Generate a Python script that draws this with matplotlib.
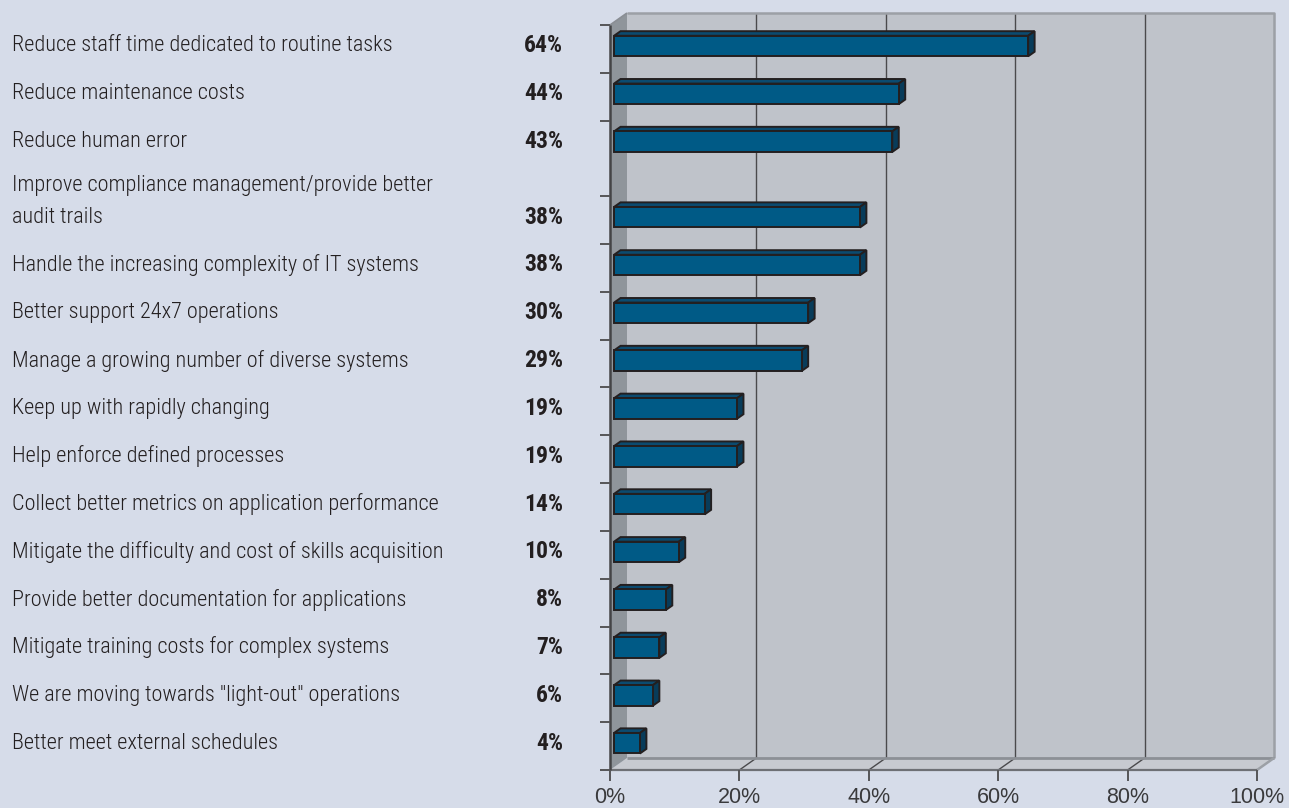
import matplotlib
matplotlib.use("Agg")
import matplotlib.pyplot as plt
from matplotlib.patches import Polygon
from matplotlib import transforms
import numpy as np

# ---- data ----
categories = [
    "Reduce staff time dedicated to routine tasks",
    "Reduce maintenance costs",
    "Reduce human error",
    "Improve compliance management/provide better\naudit trails",
    "Handle the increasing complexity of IT systems",
    "Better support 24x7 operations",
    "Manage a growing number of diverse systems",
    "Keep up with rapidly changing",
    "Help enforce defined processes",
    "Collect better metrics on application performance",
    "Mitigate the difficulty and cost of skills acquisition",
    "Provide better documentation for applications",
    "Mitigate training costs for complex systems",
    "We are moving towards \"light-out\" operations",
    "Better meet external schedules",
]
values = [64, 44, 43, 38, 38, 30, 29, 19, 19, 14, 10, 8, 7, 6, 4]
value_labels = ["64%", "44%", "43%", "38%", "38%", "30%", "29%", "19%",
                "19%", "14%", "10%", "8%", "7%", "6%", "4%"]
x_ticks = [0, 20, 40, 60, 80, 100]
x_tick_labels = ["0%", "20%", "40%", "60%", "80%", "100%"]

# ---- style ----
BG = "#D6DCE9"
BACK_WALL = "#BFC3CA"
SIDE_WALL = "#8F959B"
FLOOR = "#C7CAD0"
BAR_FRONT = "#005A86"
BAR_TOP = "#0B4B70"
BAR_SIDE = "#083C5A"
EDGE = "#231F20"
TEXT = "#231F20"
CAT_FONT = ["Liberation Sans Narrow", "Roboto Condensed", "DejaVu Sans"]
TICK_FONT = ["Liberation Sans", "DejaVu Sans"]

W, H = 1289, 808
fig = plt.figure(figsize=(W / 100, H / 100), dpi=100)
fig.patch.set_facecolor(BG)

# row positions: a two-line label gets extra room above its bar
extra = 0.58
pos = []
acc = 0.0
for i, c in enumerate(categories):
    if "\n" in c:
        acc += extra
    pos.append(i + acc)
pos = np.array(pos)

y_top = -0.5
y_bot = pos[-1] + 0.5

ax = fig.add_axes([610 / W, 1 - 770 / H, 647 / W, 745 / H])
ax.set_xlim(0, 100)
ax.set_ylim(y_bot, y_top)
ax.axis("off")

# 3D depth offsets in data units
px_x = 100 / 647.0
px_y = (y_bot - y_top) / 745.0
DX = 17 * px_x
DY = -12 * px_y


def poly(pts, **kw):
    p = Polygon(pts, closed=True, clip_on=False, **kw)
    ax.add_patch(p)
    return p


def line(xs, ys, **kw):
    ax.plot(xs, ys, clip_on=False, solid_capstyle="butt", **kw)


# walls and floor
poly([(DX, y_top + DY), (100 + DX, y_top + DY), (100 + DX, y_bot + DY), (DX, y_bot + DY)],
     facecolor=BACK_WALL, edgecolor="none", zorder=1)
poly([(0, y_bot), (100, y_bot), (100 + DX, y_bot + DY), (DX, y_bot + DY)],
     facecolor=FLOOR, edgecolor="none", zorder=1)
poly([(0, y_top), (DX, y_top + DY), (DX, y_bot + DY), (0, y_bot)],
     facecolor=SIDE_WALL, edgecolor="none", zorder=1.5)

# gridlines on back wall and floor
for v in x_ticks[1:-1]:
    line([v + DX, v + DX], [y_top + DY, y_bot + DY], color="#4A4A4C", lw=1.0, zorder=2)
    line([v, v + DX], [y_bot, y_bot + DY], color="#4A4A4C", lw=1.0, zorder=2)

# wall frame
line([DX, 100 + DX, 100 + DX], [y_top + DY, y_top + DY, y_bot + DY],
     color="#9CA0A6", lw=1.8, zorder=2)
line([DX, 100 + DX], [y_bot + DY, y_bot + DY], color="#8C9096", lw=2.0, zorder=2)
line([100, 100 + DX], [y_bot, y_bot + DY], color="#9CA0A6", lw=1.8, zorder=2)
line([0, DX], [y_top, y_top + DY], color="#8A8E94", lw=1.2, zorder=2)
line([0, 100], [y_bot, y_bot], color="#6E7075", lw=1.6, zorder=3)
line([0, 0], [y_top, y_bot], color="#444446", lw=1.8, zorder=3)

# axis ticks
tick_len_x = 10 * px_x
for b in list(pos - 0.5) + [y_bot]:
    line([-tick_len_x, 0], [b, b], color="#555558", lw=1.4, zorder=3)
tick_len_y = 11 * px_y
for v in x_ticks:
    line([v, v], [y_bot, y_bot + tick_len_y], color="#555558", lw=1.4, zorder=3)

# 3D bars
z1, z2 = 0.24, 0.62
hh = 0.215
for yc, v in zip(pos, values):
    sx1, sy1 = DX * z1, DY * z1
    sx2, sy2 = DX * z2, DY * z2
    t1, b1 = yc + sy1 - hh, yc + sy1 + hh
    t2, b2 = yc + sy2 - hh, yc + sy2 + hh
    kw = dict(edgecolor=EDGE, linewidth=1.4, joinstyle="miter", zorder=4)
    poly([(sx1, t1), (v + sx1, t1), (v + sx2, t2), (sx2, t2)], facecolor=BAR_TOP, **kw)
    poly([(v + sx1, t1), (v + sx2, t2), (v + sx2, b2), (v + sx1, b1)], facecolor=BAR_SIDE, **kw)
    poly([(sx1, t1), (v + sx1, t1), (v + sx1, b1), (sx1, b1)], facecolor=BAR_FRONT, **kw)

# x tick labels
for v, lab in zip(x_ticks, x_tick_labels):
    ax.text(v, y_bot + 28 * px_y, lab, ha="center", va="center", fontsize=15.5,
            family=TICK_FONT, color="#3A3A3C", clip_on=False)

# category and value labels
tr = transforms.blended_transform_factory(fig.transFigure, ax.transData)
line_h = 31 * px_y
for yc, cat, lab in zip(pos, categories, value_labels):
    ty = yc - 3 * px_y
    n_lines = cat.count("\n") + 1
    cy = ty - (n_lines - 1) * line_h / 2
    ax.text(12 / W, cy, cat, transform=tr, ha="left", va="center", fontsize=16,
            family=CAT_FONT, fontweight="light", color=TEXT, linespacing=1.68)
    ax.text(563 / W, ty, lab, transform=tr, ha="right", va="center", fontsize=17,
            family=CAT_FONT, fontweight="bold", color=TEXT)

fig.savefig("out.png", dpi=100, facecolor=BG)
